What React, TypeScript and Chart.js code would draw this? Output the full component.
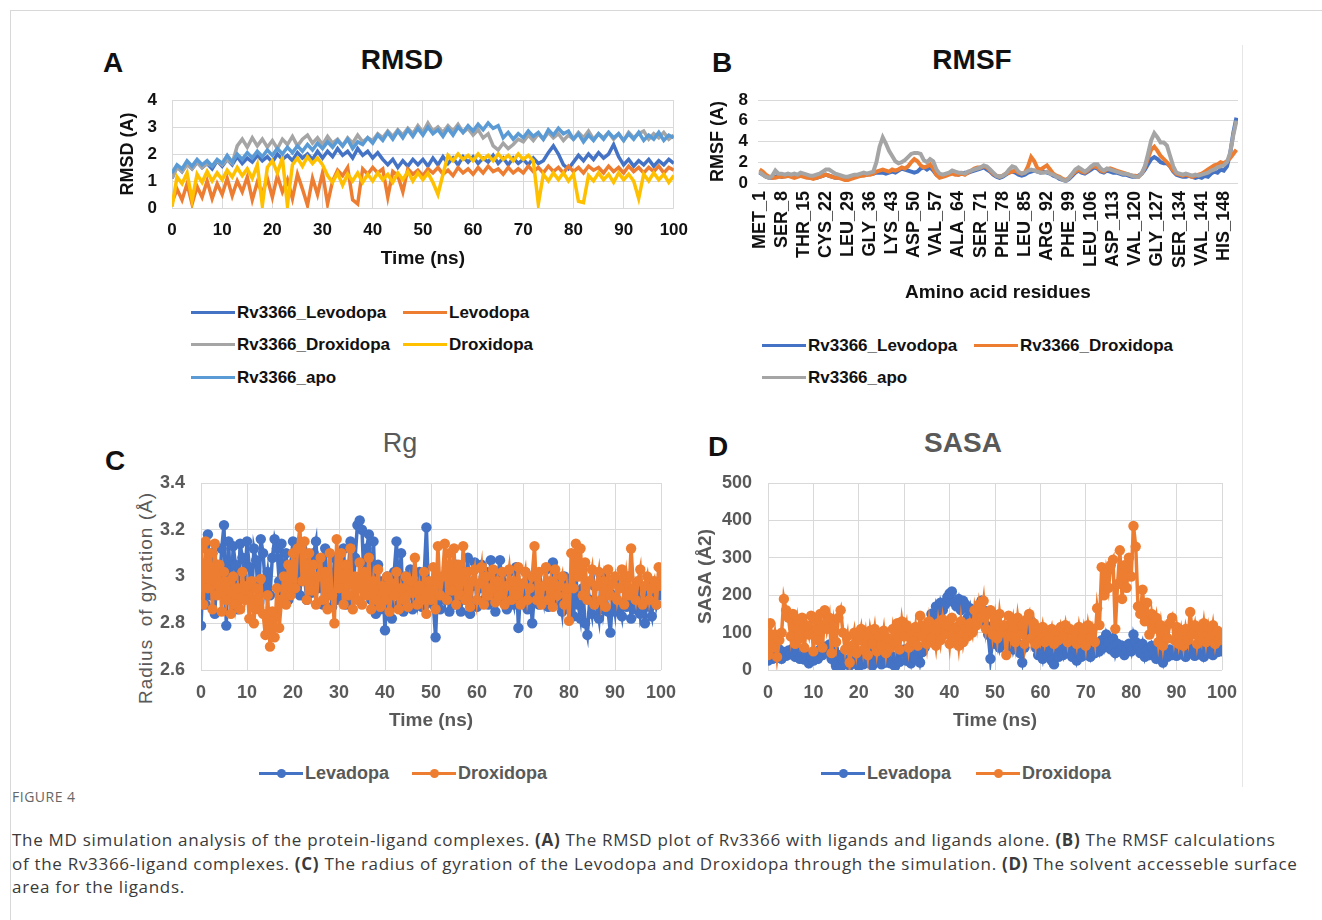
import React, { useEffect, useRef } from 'react';
import { Chart, registerables } from 'chart.js';

Chart.register(...registerables);

// ---------------- DATA ----------------
// Panel A: RMSD (Å) sampled every 1 ns, t = 0..100
const RMSD_SERIES_NAMES = ['Rv3366_Levodopa', 'Levodopa', 'Rv3366_Droxidopa', 'Droxidopa', 'Rv3366_apo'];
const RMSD_STEP_NS = 1;
const RMSD_RV3366_LEVODOPA = [
  1.1, 1.55, 1.35, 1.65, 1.45, 1.7, 1.5, 1.65, 1.45, 1.75,
  1.55, 1.8, 1.6, 1.9, 1.65, 1.85, 1.7, 1.95, 1.75, 1.9,
  1.7, 2.0, 1.8, 1.95, 1.75, 2.05, 1.85, 2.0, 1.8, 2.1,
  1.85, 2.1, 1.9, 2.2, 1.95, 2.1, 1.85, 2.2, 1.95, 2.1,
  1.85, 2.05, 1.8, 1.6, 1.8, 1.5, 1.75, 1.55, 1.8, 1.6,
  1.8, 1.55, 1.85, 1.6, 1.9, 1.65, 1.85, 1.6, 1.9, 1.7,
  1.9, 1.65, 1.85, 1.7, 1.95, 1.65, 1.85, 1.6, 1.85, 1.65,
  1.8, 1.6, 1.85, 1.65, 1.75, 2.05, 2.3, 2.0, 1.6, 1.45,
  1.7, 1.95, 1.75, 2.0, 1.8, 2.05, 1.85, 2.0, 2.35, 1.9,
  1.6, 1.8, 1.55, 1.75, 1.6, 1.8, 1.55, 1.75, 1.6, 1.8,
  1.65,
];
const RMSD_LEVODOPA = [
  0.2, 0.7, 0.3, 0.9, 0.15, 0.8, 0.4, 1.0, 0.35, 0.9,
  0.5, 1.1, 0.45, 1.0, 0.6, 1.15, 0.3, 0.95, 0.55, 1.1,
  0.4, 1.2, 0.6, 1.05, 0.35, 1.25, 0.7, 0.1, 1.1, 0.5,
  1.3, 0.15, 1.0, 1.4, 1.2, 1.5, 0.3, 0.15, 1.45, 1.25,
  1.5, 1.3, 1.45, 0.4, 1.35, 1.2, 0.6, 1.45, 1.25, 1.4,
  1.2, 1.45, 1.3, 1.5, 1.25, 1.4, 1.2, 1.5, 1.3, 1.45,
  1.25, 1.5, 1.3, 1.55, 1.35, 1.45, 1.25, 1.5, 1.3, 1.45,
  1.3, 1.55, 1.35, 1.5, 1.3, 1.55, 1.35, 1.5, 1.3, 1.55,
  1.35, 1.5, 1.3, 1.55, 1.4, 1.5, 1.3, 1.55, 1.35, 1.5,
  1.3, 1.55, 1.35, 1.5, 1.3, 1.5, 1.35, 1.55, 1.3, 1.5,
  1.4,
];
const RMSD_RV3366_DROXIDOPA = [
  1.1, 1.5, 1.35, 1.6, 1.45, 1.7, 1.5, 1.65, 1.55, 1.75,
  1.6, 1.8, 1.65, 2.3, 2.55, 2.25, 2.6, 2.3, 2.55, 2.25,
  2.5, 2.2, 2.55, 2.35, 2.65, 2.3, 2.55, 2.7, 2.4, 2.6,
  2.35, 2.65, 2.4, 2.55, 2.3, 2.6, 2.4, 2.7, 2.45, 2.6,
  2.5, 2.75, 2.6, 2.85, 2.65, 2.9, 2.7, 2.95, 2.75, 3.05,
  2.8, 3.15, 2.85, 3.0, 2.8, 3.05, 2.85, 3.1, 2.8, 2.95,
  2.7, 2.9, 2.6, 2.75, 2.3, 2.15, 2.4, 2.2, 2.35, 2.55,
  2.45, 2.7, 2.5, 2.75, 2.55, 2.8, 2.6, 2.75, 2.5, 2.7,
  2.55, 2.8, 2.6, 2.85, 2.55, 2.75, 2.6, 2.8, 2.55, 2.75,
  2.5, 2.8, 2.6, 2.75, 2.85, 2.55, 2.75, 2.6, 2.8, 2.55,
  2.7,
];
const RMSD_DROXIDOPA = [
  0.05, 1.15, 0.9, 1.3, 0.3, 1.25, 0.95, 1.35, 1.0, 1.3,
  1.05, 1.4, 1.15, 1.5, 1.2, 1.45, 1.1, 1.6, 0.1, 1.5,
  1.75, 1.3, 1.85, 0.1, 1.6, 1.85, 1.55, 1.9, 1.65, 1.85,
  1.6, 1.2, 0.95, 1.3, 0.85, 1.25, 1.0, 1.3, 0.95, 1.25,
  1.0, 1.3, 1.05, 1.25, 0.95, 1.3, 1.05, 1.35, 1.0, 1.3,
  1.05, 1.3, 0.95, 0.5, 1.25, 1.95, 1.75, 2.0, 1.8, 1.95,
  1.75, 2.0, 1.8, 1.95, 1.75, 2.0, 1.8, 1.95, 1.75, 2.0,
  1.8, 1.95, 1.75, 0.15, 1.25, 1.0, 1.3, 1.05, 1.3, 1.0,
  1.25, 0.25, 0.2, 1.2, 1.0, 1.3, 1.05, 1.25, 0.95, 1.3,
  1.05, 1.25, 1.0, 0.35, 1.25, 1.0, 1.3, 1.05, 1.25, 0.95,
  1.2,
];
const RMSD_RV3366_APO = [
  1.3, 1.6, 1.45, 1.75, 1.55, 1.8, 1.6, 1.75, 1.55, 1.8,
  1.65, 1.95, 1.7, 2.0, 1.8, 2.05, 1.85, 2.1, 1.9, 2.15,
  1.95, 2.2, 2.0, 2.25, 2.05, 2.3, 2.1, 2.35, 2.15, 2.4,
  2.2, 2.45, 2.25, 2.5, 2.3, 2.55, 2.2, 2.45, 2.35, 2.6,
  2.4, 2.7, 2.5, 2.8, 2.55, 2.85, 2.6, 2.9, 2.65, 2.95,
  2.7, 3.0, 2.75, 2.9, 2.65, 2.95, 2.7, 3.0, 2.8, 3.05,
  2.85, 3.1, 2.9, 3.15, 2.95, 3.05, 2.6, 2.8, 2.55, 2.75,
  2.6, 2.85, 2.65, 2.8, 2.55, 2.9, 2.7, 2.95, 2.75, 2.85,
  2.55, 2.75, 2.45, 2.7, 2.5, 2.75, 2.55, 2.8, 2.6, 2.75,
  2.5, 2.75, 2.55, 2.8, 2.5, 2.7, 2.55, 2.8, 2.5, 2.7,
  2.6,
];
const RMSD_X_TICKS = [0, 100, 10];
const RMSD_Y_TICKS = [0, 4, 1];

// Panel B: RMSF (Å) per residue 1..152
const RMSF_SERIES_NAMES = ['Rv3366_Levodopa', 'Rv3366_Droxidopa', 'Rv3366_apo'];
const RMSF_TICK_LABELS = [
  'MET_1', 'SER_8', 'THR_15', 'CYS_22', 'LEU_29', 'GLY_36', 'LYS_43', 'ASP_50', 'VAL_57', 'ALA_64', 'SER_71',
  'PHE_78', 'LEU_85', 'ARG_92', 'PHE_99', 'LEU_106', 'ASP_113', 'VAL_120', 'GLY_127', 'SER_134', 'VAL_141', 'HIS_148',
];
const RMSF_LEVODOPA = [
  1.0, 0.8, 0.6, 0.5, 0.5, 0.6, 0.7, 0.6, 0.7, 0.8,
  0.7, 0.6, 0.7, 0.8, 0.7, 0.6, 0.5, 0.6, 0.5, 0.6,
  0.7, 0.8, 0.7, 0.6, 0.5, 0.5, 0.6, 0.5, 0.4, 0.5,
  0.6, 0.7, 0.7, 0.8, 0.8, 0.9, 0.9, 1.0, 1.0, 1.0,
  0.9, 1.0, 1.1, 1.0, 1.2, 1.4, 1.3, 1.2, 1.1, 1.0,
  1.1, 1.4, 1.5, 1.3, 1.5, 1.2, 0.8, 0.6, 0.7, 0.8,
  0.9, 1.0, 0.9, 0.8, 0.9, 1.0, 1.0, 1.1, 1.2, 1.3,
  1.4, 1.5, 1.3, 1.1, 0.8, 0.6, 0.5, 0.6, 0.8, 1.0,
  1.1, 1.0, 0.8, 0.7, 0.8, 1.0, 1.1, 1.2, 1.1, 1.0,
  1.1, 1.0, 0.9, 0.7, 0.6, 0.4, 0.3, 0.2, 0.4, 0.7,
  1.0, 1.2, 1.0, 0.9, 1.1, 1.3, 1.5, 1.4, 1.1, 1.0,
  1.2, 1.1, 1.0, 1.0, 0.9, 0.8, 0.8, 0.7, 0.6, 0.6,
  0.7, 0.9, 1.3, 1.8, 2.3, 2.5, 2.3, 2.0, 1.9, 1.9,
  1.6, 1.1, 0.8, 0.7, 0.6, 0.6, 0.7, 0.6, 0.5, 0.6,
  0.5, 0.7, 0.6, 0.9, 1.1, 1.0, 1.3, 1.2, 1.6, 2.8,
  4.8, 6.3,
];
const RMSF_DROXIDOPA = [
  1.3, 1.1, 0.8, 0.6, 0.5, 0.5, 0.6, 0.6, 0.6, 0.7,
  0.6, 0.5, 0.6, 0.7, 0.6, 0.5, 0.5, 0.4, 0.5, 0.6,
  0.7, 0.8, 0.7, 0.6, 0.5, 0.5, 0.4, 0.3, 0.3, 0.4,
  0.5, 0.6, 0.7, 0.7, 0.8, 0.8, 0.9, 1.1, 1.2, 1.3,
  1.2, 1.1, 1.3, 1.2, 1.3, 1.5, 1.4, 1.6, 2.0, 2.3,
  2.1, 1.7, 1.5, 1.6, 1.8, 1.4, 0.8, 0.5, 0.6, 0.7,
  0.8, 0.9, 0.8, 0.8, 0.9, 0.8, 1.0, 1.2, 1.4, 1.5,
  1.5, 1.6, 1.5, 1.2, 0.9, 0.7, 0.6, 0.7, 0.9, 1.0,
  1.1, 1.2, 1.0, 0.9, 1.0, 1.6, 2.5, 2.1, 1.4, 1.3,
  1.5, 1.7, 1.3, 0.9, 0.7, 0.6, 0.4, 0.3, 0.5, 0.8,
  1.1, 1.3, 1.1, 1.0, 1.2, 1.5, 1.6, 1.5, 1.2, 1.1,
  1.3, 1.4, 1.3, 1.2, 1.1, 1.0, 0.9, 0.8, 0.7, 0.7,
  0.6, 0.9, 1.5, 2.4, 3.2, 3.5, 3.1, 2.6, 2.3, 2.0,
  1.6, 1.2, 0.9, 0.8, 0.7, 0.8, 0.7, 0.6, 0.7, 0.8,
  0.9, 1.1, 1.3, 1.5, 1.7, 1.8, 2.0, 1.9, 2.1, 2.4,
  2.8, 3.2,
];
const RMSF_APO = [
  1.1, 0.8, 0.6, 0.5, 0.7, 1.2, 0.9, 0.9, 0.8, 0.9,
  0.8, 0.9, 0.8, 1.0, 0.9, 0.8, 0.7, 0.7, 0.8, 0.9,
  1.1, 1.3, 1.3, 1.1, 0.9, 0.8, 0.7, 0.6, 0.6, 0.7,
  0.8, 0.8, 0.9, 1.0, 0.9, 1.0, 1.1, 2.0, 3.5, 4.4,
  3.8, 3.1, 2.6, 2.1, 1.9, 2.0, 2.2, 2.5, 2.8, 2.9,
  2.9, 2.8, 2.2, 2.0, 2.3, 2.1, 1.3, 0.9, 0.8, 0.9,
  1.0, 1.2, 1.1, 1.0, 1.0, 0.9, 1.1, 1.2, 1.3, 1.4,
  1.5, 1.7, 1.6, 1.3, 1.0, 0.7, 0.6, 0.7, 0.9, 1.3,
  1.6, 1.5, 1.1, 0.9, 1.0, 1.2, 1.3, 1.2, 1.1, 1.0,
  1.0, 1.1, 0.9, 0.8, 0.6, 0.5, 0.3, 0.2, 0.5, 0.9,
  1.3, 1.5, 1.3, 1.1, 1.3, 1.6, 1.8, 1.8, 1.4, 1.2,
  1.4, 1.3, 1.2, 1.1, 1.0, 0.9, 0.9, 0.8, 0.7, 0.6,
  0.6, 0.9, 1.6, 2.8, 4.1, 4.8, 4.4, 3.9, 3.9, 3.6,
  2.6, 1.6, 1.0, 0.9, 0.8, 0.9, 0.8, 0.7, 0.8, 0.7,
  0.8, 0.9, 1.0, 1.2, 1.3, 1.5, 1.6, 1.7, 2.0, 2.9,
  4.6, 6.0,
];
const RMSF_Y_TICKS = [0, 8, 2];

// Panels C and D: sampled every 0.5 ns, t = 0..100
const LIGAND_NAMES = ['Levadopa', 'Droxidopa'];
const LIGAND_STEP_NS = 0.5;
const RG_LEVADOPA = [
  2.79, 3.02, 2.88, 3.18, 2.92, 3.1, 2.84, 3.05, 2.95, 3.12,
  3.22, 2.79, 3.15, 2.9, 3.13, 3.05, 2.86, 3.14, 3.08, 2.97,
  3.15, 3.04, 2.9, 3.12, 3.07, 2.88, 3.16, 3.1, 2.95, 3.02,
  2.92, 3.08, 3.16, 3.12, 2.98, 3.14, 2.93, 3.1, 2.9, 3.05,
  3.15, 2.97, 3.08, 2.92, 3.12, 3.0, 2.9, 3.06, 2.93, 3.1,
  3.15, 2.95, 3.05, 2.88, 3.12, 2.92, 3.02, 2.87, 3.08, 2.9,
  3.06, 2.92, 3.12, 2.88, 3.02, 3.15, 2.9, 3.08, 3.22, 3.24,
  3.2, 2.95, 3.12, 3.18, 2.9, 3.15, 2.84, 3.05, 2.86, 2.98,
  2.77, 3.0, 2.9, 2.82, 3.02, 3.15, 2.88, 3.1, 2.85, 3.0,
  2.92, 3.03, 2.86, 2.97, 2.9, 3.02, 2.87, 3.0, 3.21, 2.9,
  2.95, 2.88, 2.74, 3.0, 2.86, 2.97, 2.9, 3.04, 2.85, 2.98,
  2.88, 3.05, 2.92, 2.85, 3.02, 2.9, 3.08, 2.84, 2.96, 3.06,
  2.87, 2.95, 3.05, 2.9, 3.02, 2.88, 3.07, 2.93, 2.85, 3.0,
  3.07, 2.9, 2.97, 2.86, 3.02, 2.92, 2.88, 3.04, 2.78, 2.95,
  2.9, 3.02, 2.86, 2.98, 2.8, 2.93, 3.01, 2.88, 2.96, 2.9,
  3.03, 2.87, 2.95, 3.06, 2.88, 2.99, 2.92, 2.85, 3.0, 2.9,
  2.86, 2.97, 2.83, 3.0, 2.88, 2.82, 2.95, 2.8, 2.75, 2.9,
  2.84, 2.96, 2.88, 2.82, 3.0, 2.86, 2.93, 2.85, 2.76, 2.92,
  2.85, 2.98, 2.88, 2.83, 2.95, 2.87, 3.0, 2.82, 2.9, 2.86,
  2.96, 2.84, 2.9, 2.8, 2.94, 2.87, 2.83, 2.97, 2.88, 2.93,
  2.92,
];
const RG_DROXIDOPA = [
  3.12, 2.88, 3.15, 2.95, 3.1, 2.86, 3.14, 2.92, 3.05, 2.85,
  3.02, 2.9, 2.98, 2.84, 3.0, 2.88, 2.95, 2.86, 3.02, 2.9,
  2.96, 2.82, 2.98, 2.8, 2.95, 2.86, 2.99, 2.84, 2.75, 2.92,
  2.7, 2.85, 2.74, 2.95, 2.78, 2.9, 3.0, 2.88, 3.05, 2.92,
  3.1, 2.95, 3.12, 3.21, 2.98, 3.15, 2.9, 3.1, 2.94, 3.05,
  2.88, 3.0, 3.08, 2.9, 3.02, 2.86, 3.1, 2.92, 2.8, 3.16,
  2.95, 3.1, 2.88, 3.05, 2.92, 3.12, 2.86, 3.0, 2.9, 3.06,
  2.88, 3.02, 2.92, 3.08, 2.86, 2.98, 2.9, 3.03, 2.87, 2.96,
  2.9, 3.0, 2.85, 2.97, 2.92, 3.02, 2.86, 2.95, 2.9, 3.0,
  2.87, 2.98, 2.93, 3.08, 2.88, 2.96, 2.9, 3.02, 2.84, 2.98,
  2.9, 3.04, 2.86, 3.13, 2.92, 3.0, 3.14, 2.9, 3.1, 2.94,
  3.12, 2.88, 3.05, 2.92, 3.13, 2.9, 3.02, 2.87, 2.98, 3.03,
  2.9, 2.97, 3.04, 2.88, 3.0, 2.92, 2.95, 3.03, 2.89, 2.98,
  2.92, 3.02, 2.88, 2.96, 3.03, 2.9, 2.98, 2.92, 3.04, 2.88,
  2.97, 3.02, 2.9, 2.95, 3.0, 3.13, 2.9, 3.02, 2.88, 2.96,
  3.04, 2.9, 2.98, 2.87, 3.03, 2.92, 2.96, 3.0, 2.88, 2.95,
  2.81, 3.1, 2.95, 3.14, 3.0, 3.12, 2.92, 3.06, 2.9, 2.98,
  3.03, 2.88, 2.96, 3.02, 2.9, 2.98, 2.87, 3.03, 2.92, 2.97,
  3.0, 2.9, 2.95, 3.03, 2.88, 3.0, 2.92, 3.12, 2.95, 2.9,
  2.98, 3.03, 2.88, 2.96, 3.0, 2.9, 2.95, 2.98, 2.88, 3.04,
  2.96,
];
const RG_Y_TICKS = [2.6, 3.4, 0.2];
const SASA_LEVADOPA = [
  25, 40, 30, 45, 35, 55, 30, 48, 38, 52,
  42, 58, 35, 50, 30, 45, 28, 40, 18, 35,
  25, 45, 30, 55, 40, 62, 48, 68, 30, 55,
  10, 40, 8, 30, 15, 28, 12, 35, 18, 30,
  10, 28, 15, 35, 20, 45, 12, 38, 22, 30,
  15, 32, 20, 42, 18, 36, 10, 30, 22, 48,
  55, 25, 40, 18, 45, 30, 52, 20, 48, 60,
  90, 120, 150, 135, 170, 145, 180, 160, 175, 195,
  205, 210, 180, 170, 190, 160, 185, 175, 140, 165,
  125, 150, 140, 170, 185, 160, 120, 95, 30, 80,
  70, 95, 60, 85, 75, 100, 65, 90, 55, 80,
  70, 45, 20, 60, 90, 110, 130, 85, 60, 40,
  55, 30, 65, 40, 50, 25, 15, 45, 35, 60,
  40, 70, 45, 55, 35, 60, 25, 45, 35, 50,
  40, 55, 35, 60, 45, 70, 50, 80, 60, 95,
  75, 55, 85, 45, 70, 50, 65, 40, 55, 70,
  50, 95, 75, 60, 45, 70, 35, 55, 40, 65,
  45, 30, 60, 40, 20, 50, 35, 55, 40, 48,
  38, 55, 42, 60, 35, 50, 45, 58, 38, 52,
  42, 60, 35, 55, 45, 62, 40, 55, 48, 58,
  50,
];
const SASA_DROXIDOPA = [
  40, 125, 60, 95, 35, 80, 100, 190, 160, 140,
  90, 150, 70, 130, 85, 140, 60, 120, 95, 145,
  50, 135, 80, 150, 60, 160, 110, 140, 45, 120,
  75, 140, 160, 100, 55, 90, 20, 65, 100, 45,
  80, 110, 55, 95, 40, 105, 70, 110, 50, 90,
  65, 105, 45, 85, 60, 110, 70, 125, 55, 130,
  90, 120, 60, 105, 75, 115, 65, 145, 90, 120,
  70, 130, 85, 110, 65, 125, 80, 135, 95, 120,
  70, 140, 85, 115, 65, 130, 75, 110, 90, 125,
  100, 160, 120, 175, 140, 185, 110, 150, 160, 95,
  140, 85, 150, 100, 120, 40, 145, 90, 130, 75,
  140, 95, 120, 70, 135, 150, 85, 125, 70, 110,
  80, 115, 75, 105, 85, 110, 70, 100, 80, 115,
  90, 120, 75, 110, 85, 105, 70, 115, 80, 110,
  65, 120, 85, 110, 75, 165, 120, 275, 200, 260,
  220, 280, 295, 110, 230, 320, 190, 280, 220, 300,
  250, 385, 330, 170, 150, 215, 130, 180, 95, 150,
  110, 140, 75, 120, 65, 110, 85, 125, 140, 80,
  115, 70, 105, 65, 110, 80, 155, 95, 120, 70,
  110, 80, 125, 75, 115, 85, 120, 70, 105, 80,
  95,
];
const SASA_Y_TICKS = [0, 500, 100];
const TIME_X_TICKS = [0, 100, 10];

// ---------------- STYLE ----------------
const FONT = '"Liberation Sans", Arial, Helvetica, sans-serif';
const BLUE = '#4472C4';
const ORANGE = '#ED7D31';
const GRAY = '#A5A5A5';
const YELLOW = '#FFC000';
const LIGHT_BLUE = '#5B9BD5';
const GRID = '#D9D9D9';
const DARK = '#111111';
const MID = '#595959';

const points = (values: number[], step: number) => values.map((y, i) => ({ x: i * step, y }));
const bold = (size: number) => ({ family: FONT, size, weight: 'bold' as const });
const fixW = (w: number) => (s: any) => { s.width = w; s.paddingTop = 0; s.paddingBottom = 0; };
const fixH = (h: number) => (s: any) => { s.height = h; };

function baseOptions(padding: any, scales: any) {
  return {
    animation: false,
    responsive: false,
    maintainAspectRatio: false,
    events: [],
    layout: { padding },
    plugins: { legend: { display: false }, tooltip: { enabled: false }, title: { display: false } },
    scales,
  };
}

function ChartCanvas({ left, top, width, height, makeConfig }: any) {
  const ref = useRef<HTMLCanvasElement | null>(null);
  useEffect(() => {
    const chart = new Chart(ref.current as HTMLCanvasElement, makeConfig());
    return () => chart.destroy();
  }, []);
  return (
    <canvas
      ref={ref}
      width={width}
      height={height}
      style={{ position: 'absolute', left, top, width, height, display: 'block' }}
    />
  );
}

function rmsdConfig() {
  const values = [RMSD_RV3366_LEVODOPA, RMSD_LEVODOPA, RMSD_RV3366_DROXIDOPA, RMSD_DROXIDOPA, RMSD_RV3366_APO];
  const colors = [BLUE, ORANGE, GRAY, YELLOW, LIGHT_BLUE];
  return {
    type: 'line',
    data: {
      datasets: values.map((v, i) => ({
        label: RMSD_SERIES_NAMES[i],
        data: points(v, RMSD_STEP_NS),
        borderColor: colors[i],
        backgroundColor: colors[i],
        borderWidth: 3.5,
        pointRadius: 0,
        tension: 0,
        order: values.length - i,
      })),
    },
    options: baseOptions({ top: 15, right: 24, left: 0, bottom: 0 }, {
      x: {
        type: 'linear', min: RMSD_X_TICKS[0], max: RMSD_X_TICKS[1],
        afterFit: fixH(67),
        ticks: { stepSize: RMSD_X_TICKS[2], autoSkip: false, padding: 12, color: DARK, font: bold(17) },
        grid: { color: GRID, drawTicks: false },
        border: { display: false },
        title: { display: true, text: 'Time (ns)', color: DARK, font: bold(19), padding: { top: 0, bottom: 4.6 } },
      },
      y: {
        type: 'linear', min: RMSD_Y_TICKS[0], max: RMSD_Y_TICKS[1],
        afterFit: fixW(72),
        ticks: { stepSize: RMSD_Y_TICKS[2], autoSkip: false, padding: 15, color: DARK, font: bold(17) },
        grid: { color: GRID, drawTicks: false },
        border: { display: false },
        title: { display: true, text: 'RMSD (A)', color: DARK, font: bold(18), padding: { top: 17, bottom: 0 } },
      },
    }),
  };
}

function rmsfConfig() {
  const values = [RMSF_LEVODOPA, RMSF_DROXIDOPA, RMSF_APO];
  const colors = [BLUE, ORANGE, GRAY];
  const tickResidues = RMSF_TICK_LABELS.map((l) => parseInt(l.split('_')[1], 10));
  const nameOf = (v: number) => {
    const idx = tickResidues.indexOf(Math.round(v));
    return idx >= 0 ? RMSF_TICK_LABELS[idx] : '';
  };
  return {
    type: 'line',
    data: {
      datasets: values.map((v, i) => ({
        label: RMSF_SERIES_NAMES[i],
        data: v.map((y, k) => ({ x: k + 1, y })),
        borderColor: colors[i],
        backgroundColor: colors[i],
        borderWidth: 4,
        pointRadius: 0,
        tension: 0,
        order: values.length - i,
      })),
    },
    options: baseOptions({ top: 15, right: 22, left: 0, bottom: 0 }, {
      x: {
        type: 'linear', min: 0.5, max: values[0].length + 0.5,
        afterBuildTicks: (s: any) => { s.ticks = tickResidues.map((value) => ({ value })); },
        afterFit: fixH(127),
        ticks: {
          autoSkip: false, minRotation: 90, maxRotation: 90, padding: 8, color: DARK, font: bold(18),
          callback: (v: number) => nameOf(v),
        },
        grid: { display: false, drawTicks: false },
        border: { display: false },
        title: { display: true, text: 'Amino acid residues', color: DARK, font: bold(19), padding: { top: 0, bottom: 5.6 } },
      },
      y: {
        type: 'linear', min: RMSF_Y_TICKS[0], max: RMSF_Y_TICKS[1],
        afterFit: fixW(58),
        ticks: { stepSize: RMSF_Y_TICKS[2], autoSkip: false, padding: 10, color: DARK, font: bold(17) },
        grid: { color: GRID, drawTicks: false },
        border: { display: false },
        title: { display: true, text: 'RMSF (A)', color: DARK, font: bold(18), padding: { top: 7, bottom: 0 } },
      },
    }),
  };
}

function ligandConfig(values: number[][], yTicks: number[], yWidth: number, rightPad: number, yTitle: string | null, yTitlePad: number) {
  const colors = [BLUE, ORANGE];
  return {
    type: 'line',
    data: {
      datasets: values.map((v, i) => ({
        label: LIGAND_NAMES[i],
        data: points(v, LIGAND_STEP_NS),
        borderColor: colors[i],
        backgroundColor: colors[i],
        pointBackgroundColor: colors[i],
        pointBorderWidth: 0,
        borderWidth: 3.5,
        pointRadius: 5.2,
        tension: 0,
        order: values.length - i,
      })),
    },
    options: baseOptions({ top: 13, right: rightPad, left: 0, bottom: 0 }, {
      x: {
        type: 'linear', min: TIME_X_TICKS[0], max: TIME_X_TICKS[1],
        afterFit: fixH(70),
        ticks: { stepSize: TIME_X_TICKS[2], autoSkip: false, padding: 12, color: MID, font: bold(18) },
        grid: { color: GRID, drawTicks: false },
        border: { display: false },
        title: { display: true, text: 'Time (ns)', color: MID, font: bold(19), padding: { top: 0, bottom: 7.6 } },
      },
      y: {
        type: 'linear', min: yTicks[0], max: yTicks[1],
        afterFit: fixW(yWidth),
        ticks: {
          stepSize: yTicks[2], autoSkip: false, padding: 16, color: MID, font: bold(18),
          callback: (v: number) => String(Math.round(v * 10) / 10),
        },
        grid: { color: GRID, drawTicks: false },
        border: { display: false },
        title: yTitle
          ? { display: true, text: yTitle, color: MID, font: bold(19), padding: { top: yTitlePad, bottom: 0 } }
          : { display: false },
      },
    }),
  };
}

// ---------------- HTML helpers ----------------
function Text({ x, y, children, size, color = DARK, weight = 'bold', spacing = 0, rotate = false, family = FONT }: any) {
  return (
    <div
      style={{
        position: 'absolute', left: x, top: y,
        transform: `translate(-50%, -50%)${rotate ? ' rotate(-90deg)' : ''}`,
        whiteSpace: 'pre', fontFamily: family, fontSize: size, fontWeight: weight,
        color, letterSpacing: spacing, lineHeight: 1,
      }}
    >
      {children}
    </div>
  );
}

function LegendItem({ x, y, color, label, marker = false, textColor = DARK, size = 17 }: any) {
  return (
    <>
      <div style={{ position: 'absolute', left: x, top: y - 1.5, width: 44, height: 3, background: color }} />
      {marker && (
        <div style={{ position: 'absolute', left: x + 22 - 4.5, top: y - 4.5, width: 9, height: 9, borderRadius: '50%', background: color }} />
      )}
      <div
        style={{
          position: 'absolute', left: x + 46, top: y, transform: 'translateY(-50%)',
          whiteSpace: 'nowrap', fontFamily: FONT, fontSize: size, fontWeight: 'bold', color: textColor, lineHeight: 1,
        }}
      >
        {label}
      </div>
    </>
  );
}

const CAPTION_FONT = '"Open Sans", "Noto Sans", sans-serif';

export default function App() {
  return (
    <div style={{ position: 'absolute', left: 0, top: 0, width: 1322, height: 920, background: '#fff', overflow: 'hidden' }}>
      {/* frame */}
      <div style={{ position: 'absolute', left: 10, top: 10, width: 1312, height: 1, background: '#D8D8D8' }} />
      <div style={{ position: 'absolute', left: 10, top: 10, width: 1, height: 910, background: '#D8D8D8' }} />
      <div style={{ position: 'absolute', left: 1242, top: 45, width: 1, height: 742, background: '#E6E6E6' }} />

      {/* Panel A */}
      <Text x={113} y={63} size={28}>A</Text>
      <Text x={402} y={60} size={28}>RMSD</Text>
      <ChartCanvas left={100} top={85} width={600} height={190} makeConfig={rmsdConfig} />
      <LegendItem x={191} y={312} color={BLUE} label={RMSD_SERIES_NAMES[0]} />
      <LegendItem x={403} y={312} color={ORANGE} label={RMSD_SERIES_NAMES[1]} />
      <LegendItem x={191} y={344} color={GRAY} label={RMSD_SERIES_NAMES[2]} />
      <LegendItem x={403} y={344} color={YELLOW} label={RMSD_SERIES_NAMES[3]} />
      <LegendItem x={191} y={377} color={LIGHT_BLUE} label={RMSD_SERIES_NAMES[4]} />

      {/* Panel B */}
      <Text x={722} y={63} size={28}>B</Text>
      <Text x={972} y={60} size={28}>RMSF</Text>
      <ChartCanvas left={700} top={85} width={560} height={225} makeConfig={rmsfConfig} />
      <LegendItem x={762} y={345} color={BLUE} label={RMSF_SERIES_NAMES[0]} />
      <LegendItem x={974} y={345} color={ORANGE} label={RMSF_SERIES_NAMES[1]} />
      <LegendItem x={762} y={377} color={GRAY} label={RMSF_SERIES_NAMES[2]} />

      {/* Panel C */}
      <Text x={115} y={461} size={28}>C</Text>
      <Text x={400} y={443} size={27} color={MID} weight="normal">Rg</Text>
      <Text x={145} y={598} size={19} color={MID} weight="normal" spacing={1} rotate>Radius  of gyration (Å)</Text>
      <ChartCanvas
        left={100} top={470} width={600} height={270}
        makeConfig={() => ligandConfig([RG_LEVADOPA, RG_DROXIDOPA], RG_Y_TICKS, 101, 39, null, 0)}
      />
      <LegendItem x={259} y={773} color={BLUE} label={LIGAND_NAMES[0]} marker textColor={MID} size={18} />
      <LegendItem x={412} y={773} color={ORANGE} label={LIGAND_NAMES[1]} marker textColor={MID} size={18} />

      {/* Panel D */}
      <Text x={718} y={447} size={28}>D</Text>
      <Text x={963} y={443} size={28} color={MID}>SASA</Text>
      <ChartCanvas
        left={690} top={470} width={560} height={270}
        makeConfig={() => ligandConfig([SASA_LEVADOPA, SASA_DROXIDOPA], SASA_Y_TICKS, 78, 28, 'SASA (Å2)', 4.6)}
      />
      <LegendItem x={821} y={773} color={BLUE} label={LIGAND_NAMES[0]} marker textColor={MID} size={18} />
      <LegendItem x={976} y={773} color={ORANGE} label={LIGAND_NAMES[1]} marker textColor={MID} size={18} />

      {/* Caption */}
      <div style={{ position: 'absolute', left: 12, top: 790, fontFamily: CAPTION_FONT, fontSize: 14, color: '#666', letterSpacing: 0.5, lineHeight: 1, whiteSpace: 'nowrap' }}>
        FIGURE 4
      </div>
      {[
        <>The MD simulation analysis of the protein-ligand complexes. <b>(A)</b> The RMSD plot of Rv3366 with ligands and ligands alone. <b>(B)</b> The RMSF calculations</>,
        <>of the Rv3366-ligand complexes. <b>(C)</b> The radius of gyration of the Levodopa and Droxidopa through the simulation. <b>(D)</b> The solvent accesseble surface</>,
        <>area for the ligands.</>,
      ].map((line, i) => (
        <div
          key={i}
          style={{
            position: 'absolute', left: 12, top: [840, 864, 887][i] - 12, height: 24,
            fontFamily: CAPTION_FONT, fontSize: 17, letterSpacing: 0.7, color: '#3A3A3A', lineHeight: '24px', whiteSpace: 'nowrap',
          }}
        >
          {line}
        </div>
      ))}
    </div>
  );
}
